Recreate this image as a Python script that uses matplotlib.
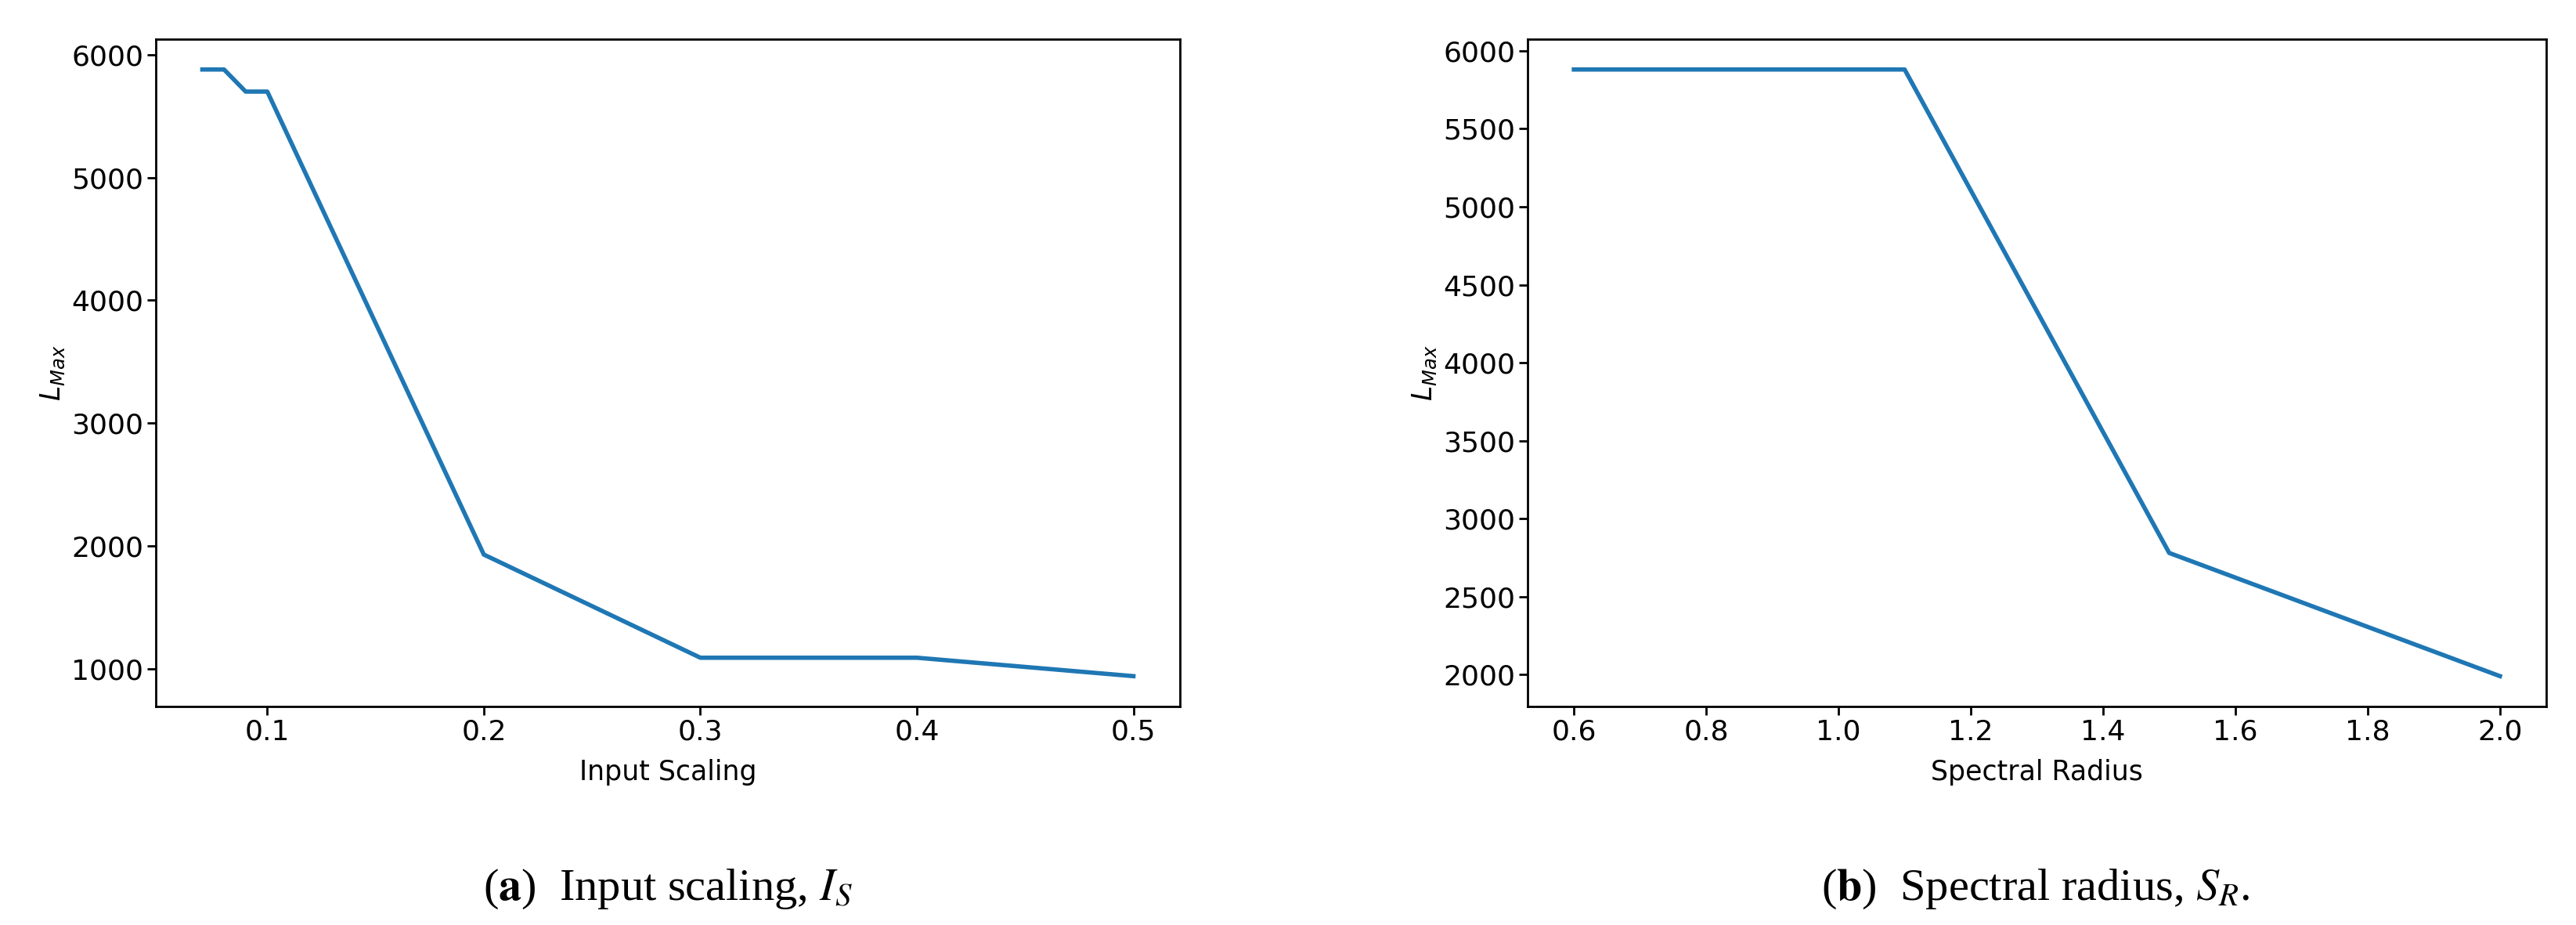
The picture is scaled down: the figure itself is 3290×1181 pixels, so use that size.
import matplotlib
matplotlib.use("Agg")
import matplotlib.pyplot as plt

# input scaling sweep
is_x = [0.07, 0.08, 0.09, 0.1, 0.2, 0.3, 0.4, 0.5]
is_lmax = [5880, 5880, 5700, 5700, 1930, 1090, 1090, 940]

# spectral radius sweep
sr_x = [0.6, 0.7, 0.8, 0.9, 1.0, 1.1, 1.5, 2.0]
sr_lmax = [5880, 5880, 5880, 5880, 5880, 5880, 2780, 1990]

fig = plt.figure(figsize=(32.9, 11.81), dpi=100)
ax1 = fig.add_axes([199/3290, 1 - 902/1181, 1308/3290, 852/1181])
ax2 = fig.add_axes([1951/3290, 1 - 902/1181, 1301/3290, 852/1181])

for ax, x, y, xl in [(ax1, is_x, is_lmax, 'Input Scaling'),
                     (ax2, sr_x, sr_lmax, 'Spectral Radius')]:
    ax.plot(x, y, color='#1f77b4', lw=4)
    ax.set_xlabel(xl, fontsize=25, labelpad=12)
    ax.set_ylabel(r'$L_{Max}$', fontsize=25)
    ax.tick_params(labelsize=26, width=2, length=8)
    for s in ax.spines.values():
        s.set_linewidth(2)

ax1.set_yticks([1000, 2000, 3000, 4000, 5000, 6000])
ax1.set_xticks([0.1, 0.2, 0.3, 0.4, 0.5])
ax2.set_yticks(range(2000, 6001, 500))
ax2.set_xticks([0.6, 0.8, 1.0, 1.2, 1.4, 1.6, 1.8, 2.0])
ax2.set_xticklabels(['0.6', '0.8', '1.0', '1.2', '1.4', '1.6', '1.8', '2.0'])

cap = dict(fontsize=42, family='Liberation Serif', math_fontfamily='stix',
           ha='center', va='center')
fig.text(853/3290, 1 - 1135/1181, r'($\mathbf{a}$)  Input scaling, $I_S$', **cap)
fig.text(2600/3290, 1 - 1135/1181, r'($\mathbf{b}$)  Spectral radius, $S_R$.', **cap)

fig.savefig('out.png', dpi=100)
